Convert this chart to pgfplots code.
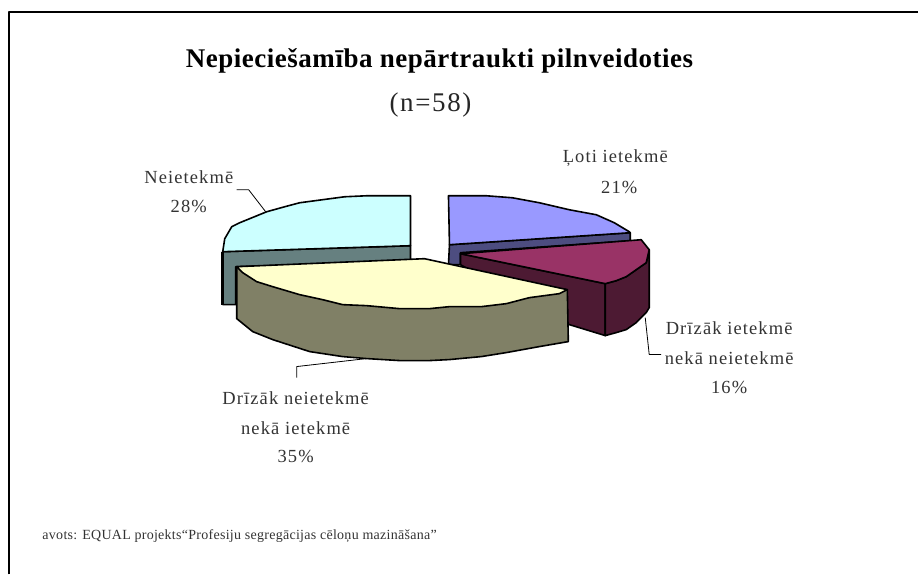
\documentclass[border=0pt]{standalone}
\usepackage{pgfplots}
\pgfplotsset{compat=1.18}
\usepackage{fontspec}
\setmainfont{Liberation Serif}
\newfontfamily\spc[LetterSpace=6]{Liberation Serif}
\newfontfamily\spt[LetterSpace=2]{Liberation Serif}
\newfontfamily\spn[LetterSpace=6]{Liberation Serif}
\definecolor{tblue}{HTML}{9999FF}
\definecolor{sblue}{HTML}{4D4D80}
\definecolor{tmar}{HTML}{993366}
\definecolor{smar}{HTML}{4D1A33}
\definecolor{tyel}{HTML}{FFFFCC}
\definecolor{syel}{HTML}{808066}
\definecolor{tcya}{HTML}{CCFFFF}
\definecolor{scya}{HTML}{668080}
\tikzset{lbl/.style={text=black!80,align=center,font=\fontsize{18.5}{30}\selectfont\spc}}
\begin{document}
\begin{tikzpicture}
\begin{axis}[hide axis,scale only axis,width=919pt,height=575pt,xmin=0,xmax=919,ymin=0,ymax=575,y dir=reverse,clip=false,
  every axis plot/.append style={black,line width=1.6pt,line join=round,mark=none}]
\addplot[draw=none] coordinates {(0,0)(919,575)};
% frame
\addplot[line width=2.2pt] coordinates {(9,575)(9,12)(919,12)};
% cyan side and top
\addplot[fill=scya] coordinates {(223,252)(411,246)(411,262)(236,267)(236,305)(223,305)} --cycle;
\addplot[line width=3pt] coordinates {(223,252)(223,305)};
\addplot[fill=tcya] coordinates {(411,196)(367,196)(345,197)(315,201)(300,203)(285,207)(267,212)(240,223)(232,227)(225,239)(223,252)(411,246)} --cycle;
% blue side and top
\addplot[fill=sblue] coordinates {(450,245)(631,233)(631,241)(461,253)(461,265)(449,265)} --cycle;
\addplot[fill=tblue] coordinates {(449,196)(487,196)(513,198)(540,203)(570,210)(597,215)(615,223)(630,232)(631,233)(450,245)} --cycle;
% maroon sides and top
\addplot[fill=smar] coordinates {(461,254)(606,284)(606,336)(570,325)(461,265)} --cycle;
\addplot[fill=smar] coordinates {(606,284)(617,281)(627,277)(637,270)(647,263)(650,250)(650,308)(647,313)(637,323)(627,330)(617,333)(606,336)} --cycle;
\addplot[fill=tmar] coordinates {(461,254)(642,240)(650,250)(647,263)(637,270)(627,277)(617,281)(606,284)} --cycle;
% yellow side and top
\addplot[fill=syel] coordinates {(237,267)(237,319)(253,332)(273,340)(310,352)(343,357)(367,359)(400,361)(430,361)(450,360)(482,357)(507,353)(540,347)(569,342)(568,290)} --cycle;
\addplot[fill=tyel] coordinates {(237,267)(425,259)(568,290)(560,294)(530,298)(507,304)(482,307)(450,307)(430,309)(400,309)(367,306)(343,305)(323,300)(300,295)(273,287)(257,282)(243,273)} --cycle;
% leaders
\addplot[line width=.8pt] coordinates {(237,190)(249,190)(266,212)};
\addplot[line width=.8pt] coordinates {(297,378)(297,367)(367,359)};
\addplot[line width=.8pt] coordinates {(646,318)(650,355)(662,355)};
% text
\node[font=\fontsize{27}{30}\selectfont\bfseries\spt,text=black] at (axis cs:440,61) {Nepieciešamība nepārtraukti pilnveidoties};
\node[font=\fontsize{27}{30}\selectfont\spn,text=black!85] at (axis cs:431,105) {(n=58)};
\node[lbl] at (axis cs:616,158) {Ļoti ietekmē};
\node[lbl] at (axis cs:620,188) {21\%};
\node[lbl] at (axis cs:189,177) {Neietekmē};
\node[lbl] at (axis cs:189,207) {28\%};
\node[lbl] at (axis cs:730,329) {Drīzāk ietekmē};
\node[lbl] at (axis cs:730,359) {nekā neietekmē};
\node[lbl] at (axis cs:730,388) {16\%};
\node[lbl] at (axis cs:296,399) {Drīzāk neietekmē};
\node[lbl] at (axis cs:296,429) {nekā ietekmē};
\node[lbl] at (axis cs:296,457) {35\%};
\node[anchor=west,font=\fontsize{14}{14}\selectfont\spt,text=black!80] at (axis cs:39,537) {avots: EQUAL projekts“Profesiju segregācijas cēloņu mazināšana”};
\end{axis}
\end{tikzpicture}
\end{document}
